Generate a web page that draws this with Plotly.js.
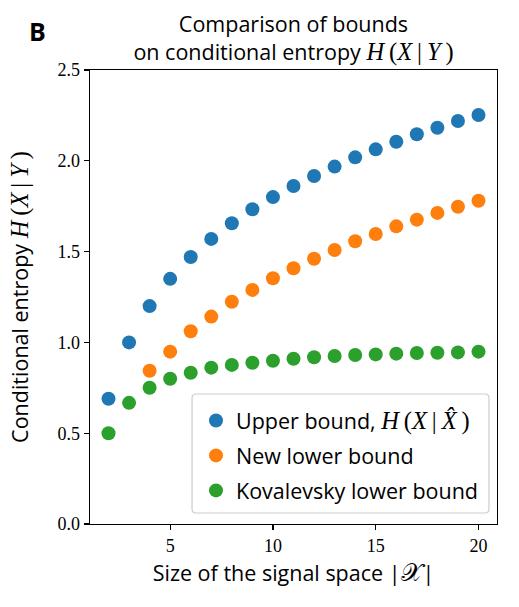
<!DOCTYPE html>
<html>
<head>
<meta charset="utf-8">
<script src="https://cdn.plot.ly/plotly-3.0.1.min.js"></script>
<style>
  html, body { margin: 0; padding: 0; background: #fff; }
  #chart { width: 519px; height: 607px; }
</style>
</head>
<body>
<div id="chart"></div>
<script>
// Size of the signal space |X|
const signalSize = [2, 3, 4, 5, 6, 7, 8, 9, 10, 11, 12, 13, 14, 15, 16, 17, 18, 19, 20];
const newLowerSize = [4, 5, 6, 7, 8, 9, 10, 11, 12, 13, 14, 15, 16, 17, 18, 19, 20];

// Upper bound H(X|X̂)
const upperBound = [0.69, 1.00, 1.20, 1.35, 1.47, 1.57, 1.656, 1.733, 1.80, 1.861,
                    1.916, 1.968, 2.019, 2.063, 2.105, 2.146, 2.182, 2.219, 2.252];
// New lower bound
const newLowerBound = [0.844, 0.949, 1.061, 1.142, 1.224, 1.289, 1.353, 1.408, 1.461,
                       1.509, 1.557, 1.597, 1.639, 1.676, 1.713, 1.747, 1.780];
// Kovalevsky lower bound
const kovalevskyBound = [0.50, 0.667, 0.75, 0.80, 0.833, 0.861, 0.876, 0.888, 0.899, 0.910,
                         0.918, 0.925, 0.931, 0.934, 0.938, 0.942, 0.943, 0.945, 0.949];

const xTicks = [5, 10, 15, 20];
const yTicks = [0.0, 0.5, 1.0, 1.5, 2.0, 2.5];

const SANS = "'Open Sans', 'DejaVu Sans', sans-serif";
const SERIF = "'Liberation Serif', 'DejaVu Serif', serif";
const TXT = 21.5;
const T = '\u2009'; // thin space used to open up the math glyphs
const math = s => `<span style="font-family:${SERIF};font-size:${TXT + 3}px">${s}</span>`;
const cond = (a, b) => math(`<i>H</i>${T}(<i>${a}</i>${T}|${T}<i>${b}</i>${T})`);

const traces = [
  { x: signalSize, y: upperBound, name: 'Upper bound, ' + cond('X', 'X\u0302'), color: '#1f77b4' },
  { x: newLowerSize, y: newLowerBound, name: 'New lower bound', color: '#ff7f0e' },
  { x: signalSize, y: kovalevskyBound, name: 'Kovalevsky lower bound', color: '#2ca02c' }
].map((t, i) => ({
  type: 'scatter', mode: 'markers', x: t.x, y: t.y, name: t.name,
  legendgroup: 'g' + i,
  marker: { color: t.color, size: 14, line: { width: 0 } },
  hoverinfo: 'x+y'
}));

const axisCommon = {
  showline: true, mirror: true, linecolor: '#000', linewidth: 1.3,
  ticks: 'outside', ticklen: 5, tickwidth: 1.2, tickcolor: '#000',
  showgrid: false, zeroline: false,
  tickfont: { family: SERIF, size: 18, color: '#000' }
};

const layout = {
  width: 519, height: 607,
  margin: { l: 90, r: 22, t: 70, b: 83 },
  paper_bgcolor: '#fff', plot_bgcolor: '#fff',
  font: { family: SANS, color: '#000' },
  title: {
    text: 'Comparison of bounds<br>on conditional entropy ' + cond('X', 'Y'),
    x: 0.5, xref: 'paper', xanchor: 'center',
    y: 1 - 32 / 607, yref: 'container', yanchor: 'middle',
    font: { family: SANS, size: TXT, color: '#000' }
  },
  xaxis: Object.assign({}, axisCommon, {
    range: [1.1, 20.9], tickvals: xTicks, ticktext: xTicks.map(String),
    title: { text: 'Size of the signal space |' + math('\uD835\uDCB3') + '|',
             font: { family: SANS, size: TXT, color: '#000' }, standoff: 11 }
  }),
  yaxis: Object.assign({}, axisCommon, {
    range: [0, 2.5], tickvals: yTicks, ticktext: yTicks.map(v => v.toFixed(1)),
    title: { text: 'Conditional entropy ' + cond('X', 'Y'),
             font: { family: SANS, size: TXT, color: '#000' }, standoff: 23 }
  }),
  showlegend: true,
  legend: {
    x: (196 - 90) / 407, y: (524 - 400) / 454, xanchor: 'left', yanchor: 'top',
    bgcolor: 'rgba(0,0,0,0)', borderwidth: 0,
    font: { family: SANS, size: TXT, color: '#000' },
    tracegroupgap: 4
  },
  shapes: [{
    // rounded legend frame
    type: 'path', xref: 'paper', yref: 'paper', layer: 'below',
    path: 'M 0.2605 0.0242 L 0.9705 0.0242 Q 0.9803 0.0242 0.9803 0.033 ' +
          'L 0.9803 0.2775 Q 0.9803 0.2863 0.9705 0.2863 L 0.2605 0.2863 ' +
          'Q 0.2507 0.2863 0.2507 0.2775 L 0.2507 0.033 Q 0.2507 0.0242 0.2605 0.0242 Z',
    line: { color: '#cccccc', width: 1.2 }, fillcolor: 'rgba(255,255,255,0.8)'
  }],
  annotations: [{
    text: '<b>B</b>', xref: 'paper', yref: 'paper',
    x: (37 - 90) / 407, y: 1 + (70 - 31) / 454, xanchor: 'center', yanchor: 'middle',
    showarrow: false, font: { family: SANS, size: 25, color: '#000' }
  }]
};

Plotly.newPlot('chart', traces, layout, { displayModeBar: false, staticPlot: true });
</script>
</body>
</html>
